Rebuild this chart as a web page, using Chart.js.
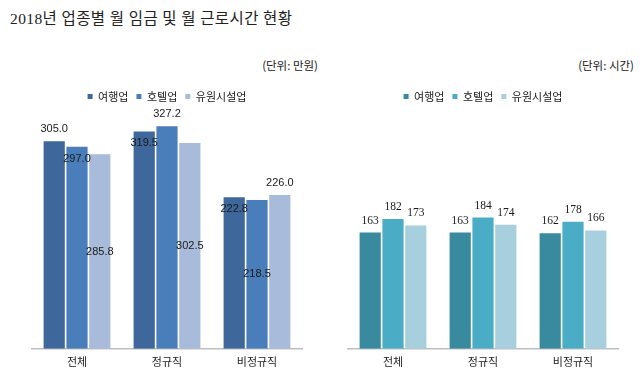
<!DOCTYPE html>
<html>
<head>
<meta charset="utf-8">
<script src="https://cdn.jsdelivr.net/npm/chart.js@4.4.1/dist/chart.umd.min.js"></script>
<style>
  html, body { margin: 0; padding: 0; background: #fff; }
  body { width: 640px; height: 379px; position: relative; overflow: hidden; }
  #title { position: absolute; left: 10px; top: 9px; font-family: "Liberation Serif", "Noto Sans CJK KR", serif; font-size: 15.5px; line-height: 20px; color: #222; letter-spacing: 0.4px; white-space: nowrap; }
  .unit { position: absolute; top: 57px; font-family: "Noto Sans CJK KR", sans-serif; font-size: 11.5px; line-height: 16px; color: #222; white-space: nowrap; text-align: right; }
  #unitL { right: 322px; }
  #unitR { right: 6px; }
  .box { position: absolute; top: 83px; width: 320px; height: 296px; }
  #boxL { left: 0; }
  #boxR { left: 320px; }
</style>
</head>
<body>
<div id="title">2018년 업종별 월 임금 및 월 근로시간 현황</div>
<div class="unit" id="unitL">(단위: 만원)</div>
<div class="unit" id="unitR">(단위: 시간)</div>
<div class="box" id="boxL"><canvas id="wage"></canvas></div>
<div class="box" id="boxR"><canvas id="hours"></canvas></div>
<script>
// ---- data ----
const categories = ["전체", "정규직", "비정규직"];
const seriesNames = ["여행업", "호텔업", "유원시설업"];

const wageTravel = [305.0, 319.5, 222.8];
const wageHotel = [297.0, 327.2, 218.5];
const wagePark = [285.8, 302.5, 226.0];

const hoursTravel = [163, 163, 162];
const hoursHotel = [182, 184, 178];
const hoursPark = [173, 174, 166];

// label placement per bar (as in the original): 'end' above, 'insideEnd' just inside top, 'center'
const wageLabelPos = [
  ["end", "insideEnd", "insideEnd"],
  ["insideEnd", "end", "center"],
  ["center", "center", "end"]
];
const hoursLabelPos = [
  ["end", "end", "end"],
  ["end", "end", "end"],
  ["end", "end", "end"]
];

const wageColors = ["#3E679B", "#4A7EBB", "#A9BBDB"];
const hoursColors = ["#3A8A9F", "#4BACC6", "#A7CFDD"];

const KFONT = '"Noto Sans CJK KR", sans-serif';

const valueLabels = {
  id: "valueLabels",
  afterDatasetsDraw(chart, args, opts) {
    const ctx = chart.ctx;
    ctx.save();
    ctx.font = opts.font;
    ctx.fillStyle = "#1a1a1a";
    ctx.textAlign = "center";
    ctx.textBaseline = "middle";
    chart.data.datasets.forEach((ds, di) => {
      const meta = chart.getDatasetMeta(di);
      meta.data.forEach((bar, i) => {
        const pos = opts.positions[di][i];
        let y;
        if (pos === "end") y = bar.y - 12;
        else if (pos === "insideEnd") y = bar.y + 12;
        else y = (bar.y + bar.base) / 2;
        ctx.fillText(opts.format(ds.data[i]), bar.x, y);
      });
    });
    ctx.restore();
  }
};

function makeChart(id, values, colors, yMax, positions, labelFont, format, pad) {
  return new Chart(document.getElementById(id), {
    type: "bar",
    data: {
      labels: categories,
      datasets: values.map((v, k) => ({
        label: seriesNames[k],
        data: v,
        backgroundColor: colors[k],
        borderWidth: 0,
        barPercentage: 0.93,
        categoryPercentage: 0.76
      }))
    },
    options: {
      responsive: true,
      maintainAspectRatio: false,
      animation: false,
      devicePixelRatio: 1,
      layout: { padding: pad },
      plugins: {
        legend: {
          position: "top",
          labels: {
            boxWidth: 5,
            boxHeight: 5,
            padding: 8,
            color: "#222",
            font: { family: KFONT, size: 11 }
          }
        },
        tooltip: { enabled: false },
        valueLabels: { positions: positions, font: labelFont, format: format }
      },
      scales: {
        x: {
          grid: { display: false, drawTicks: false },
          border: { display: true, color: "#BFBFBF", width: 1.5 },
          ticks: { color: "#222", padding: 6, font: { family: KFONT, size: 11 } }
        },
        y: { display: false, min: 0, max: yMax }
      }
    },
    plugins: [valueLabels]
  });
}

makeChart("wage", [wageTravel, wageHotel, wagePark], wageColors, 348, wageLabelPos,
  '11px "Liberation Sans", sans-serif', v => v.toFixed(1),
  { left: 32, right: 18, top: 0, bottom: 5 });
makeChart("hours", [hoursTravel, hoursHotel, hoursPark], hoursColors, 332, hoursLabelPos,
  '11.5px "Liberation Serif", serif', v => String(v),
  { left: 28, right: 22, top: 0, bottom: 5 });
</script>
</body>
</html>
